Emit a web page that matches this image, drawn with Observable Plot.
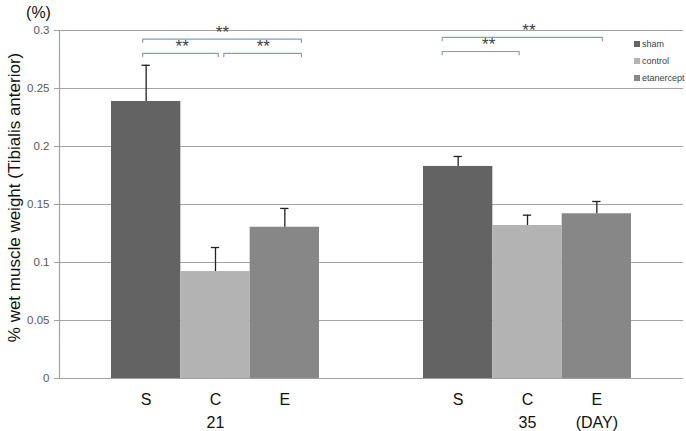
<!DOCTYPE html>
<html>
<head>
<meta charset="utf-8">
<script src="https://cdn.jsdelivr.net/npm/d3@7"></script>
<script src="https://cdn.jsdelivr.net/npm/@observablehq/plot@0.6"></script>
<style>
  body { margin: 0; background: #fff; }
  #wrap { position: relative; width: 686px; height: 431px; font-family: "Liberation Sans", Arial, sans-serif; }
  #legend { position: absolute; left: 634px; top: 36px; font-size: 9px; color: #404040; line-height: 17px; }
  #legend span.sw { display: inline-block; width: 6px; height: 6px; margin-right: 2px; vertical-align: 0px; }
  .ytk text { font-family: "Liberation Sans Narrow", "Liberation Sans", Arial, sans-serif; }
</style>
</head>
<body>
<div id="wrap"></div>
<script>
// ---- data ----
const days = ["21", "35"];
const treatments = ["S", "C", "E"];
const seriesNames = ["sham", "control", "etanercept"];
const seriesColors = ["#636363", "#b3b3b3", "#878787"];
const shamMean = [0.2388, 0.1828];
const controlMean = [0.0922, 0.1319];
const etanerceptMean = [0.1304, 0.1420];
const shamErr = [0.0312, 0.0086];
const controlErr = [0.0207, 0.0089];
const etanerceptErr = [0.0162, 0.0106];
const yTicks = [0, 0.05, 0.1, 0.15, 0.2, 0.25, 0.3];
const secondLine = ["", "", "", "", "", "(DAY)"];
// significance brackets (x in bar-slot units, y in value units)
const sigX1 = [1.2, 1.2, 2.37, 5.52, 5.52];
const sigX2 = [3.49, 2.29, 3.49, 7.83, 6.63];
const sigY = [0.2925, 0.2802, 0.2802, 0.2940, 0.2819];
const sigText = ["**", "**", "**", "**", "**"];
const sigTextX = [2.35, 1.77, 2.94, 6.77, 6.19];

// ---- table ----
const means = [shamMean, controlMean, etanerceptMean];
const errs = [shamErr, controlErr, etanerceptErr];
const gap = 0.75, perCat = 3 + 2 * gap;
const bars = [];
days.forEach((d, g) => {
  treatments.forEach((t, i) => {
    const x1 = g * perCat + gap + i;
    bars.push({day: d, t, series: seriesNames[i], x1, x2: x1 + 1, xc: x1 + 0.5,
      v: means[i][g], e: errs[i][g], color: seriesColors[i],
      line2: i === 1 ? d : "", idx: g * 3 + i});
  });
});
bars.forEach(b => { if (secondLine[b.idx]) b.line2 = secondLine[b.idx]; });

const tick = 0.0027;
const bracketPts = [];
sigX1.forEach((x1, k) => {
  const x2 = sigX2[k], y = sigY[k];
  bracketPts.push({k, x: x1, y: y - tick}, {k, x: x1, y}, {k, x: x2, y}, {k, x: x2, y: y - tick});
});
const sigLabels = sigText.map((s, k) => ({s, x: sigTextX[k], y: sigY[k]}));

const capW = 0.06;
const chart = Plot.plot({
  width: 686, height: 431,
  marginLeft: 59, marginRight: 3, marginTop: 30, marginBottom: 53,
  style: {fontFamily: "'Liberation Sans', Arial, sans-serif", background: "#fff"},
  x: {type: "linear", domain: [0, 2 * perCat], axis: null},
  y: {domain: [0, 0.3], axis: null},
  marks: [
    Plot.gridY(yTicks, {stroke: "#a3a3a3", strokeOpacity: 1, strokeWidth: 1.2}),
    Plot.axisY({ticks: yTicks, tickFormat: d => String(+d.toFixed(2)), tickSize: 5, tickPadding: 5,
      label: null, fontSize: 11.5, fill: "#595959", stroke: "#a0a0a0", className: "ytk"}),
    Plot.rectY(bars, {x1: "x1", x2: "x2", y: "v", fill: "color"}),
    Plot.ruleX(bars, {x: "xc", y1: "v", y2: d => d.v + d.e, stroke: "#222", strokeWidth: 1.3}),
    Plot.ruleY(bars, {y: d => d.v + d.e, x1: d => d.xc - capW, x2: d => d.xc + capW, stroke: "#222", strokeWidth: 1.3}),
    Plot.ruleX([0], {stroke: "#a0a0a0", strokeWidth: 1.2}),
    Plot.ruleY([0], {stroke: "#a0a0a0", strokeWidth: 1.2}),
    Plot.line(bracketPts, {x: "x", y: "y", z: "k", stroke: "#7f9fc9", strokeWidth: 1.2}),
    Plot.text(sigLabels, {x: "x", y: "y", text: "s", dy: -7, fontSize: 17, fill: "#404040", letterSpacing: "3px"}),
    Plot.text(bars, {x: "xc", y: 0, text: "t", dy: 21, fontSize: 16, fill: "#111"}),
    Plot.text(bars.filter(b => b.line2), {x: "xc", y: 0, text: "line2", dy: 44, fontSize: 16, fill: "#111"}),
    Plot.text(["(%)"], {frameAnchor: "top-left", lineAnchor: "middle", dx: -21, dy: -18, fontSize: 16, fill: "#111", textAnchor: "middle"}),
    Plot.text(["% wet muscle weight (Tibialis anterior)"], {frameAnchor: "left", dx: -45, dy: -7, rotate: -90,
      fontSize: 17, fill: "#111", textAnchor: "middle"})
  ]
});
const wrap = document.getElementById("wrap");
wrap.appendChild(chart);
const leg = document.createElement("div");
leg.id = "legend";
leg.innerHTML = seriesNames.map((n, i) =>
  `<div><span class="sw" style="background:${seriesColors[i]}"></span>${n}</div>`).join("");
wrap.appendChild(leg);
</script>
</body>
</html>
